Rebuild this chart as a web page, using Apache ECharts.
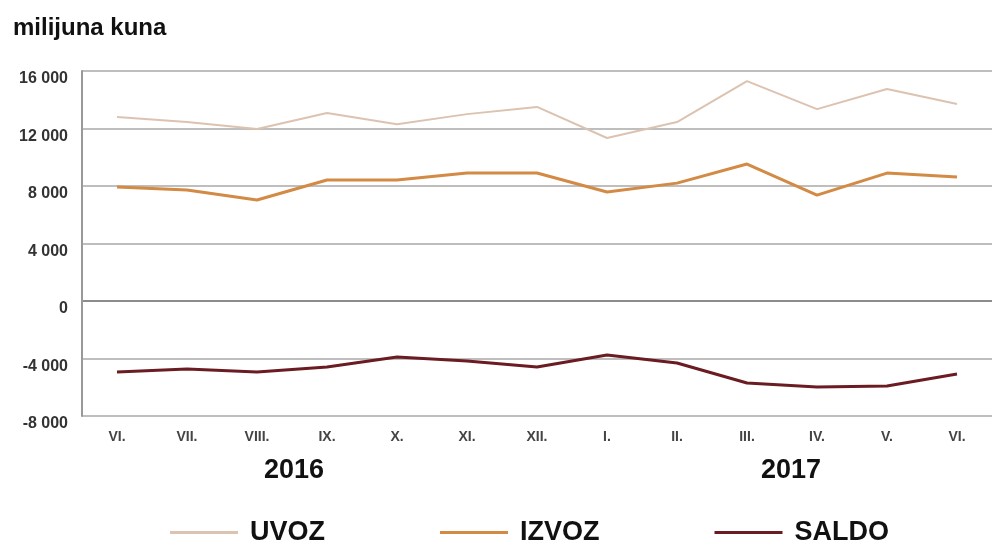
<!DOCTYPE html>
<html>
<head>
<meta charset="utf-8">
<script src="https://cdn.jsdelivr.net/npm/echarts@6/dist/echarts.min.js"></script>
<style>
  html, body { margin: 0; padding: 0; background: #fff; }
  #chart { width: 992px; height: 544px; }
</style>
</head>
<body>
<div id="chart"></div>
<script>
const months = ['VI.', 'VII.', 'VIII.', 'IX.', 'X.', 'XI.', 'XII.', 'I.', 'II.', 'III.', 'IV.', 'V.', 'VI.'];
const uvoz = [12800, 12450, 11970, 13080, 12300, 13000, 13500, 11340, 12450, 15300, 13350, 14750, 13700];
const izvoz = [7930, 7720, 7030, 8420, 8420, 8900, 8900, 7580, 8200, 9530, 7370, 8900, 8630];
const saldo = [-4940, -4730, -4940, -4590, -3900, -4170, -4590, -3760, -4310, -5700, -5980, -5910, -5080];
const years = ['2016', '2017'];

const font = "'Liberation Sans', Arial, sans-serif";
const chart = echarts.init(document.getElementById('chart'));

const option = {
    animation: false,
    title: {
        text: 'milijuna kuna',
        left: 8,
        top: 11,
        textStyle: { fontFamily: font, fontSize: 24, fontWeight: 'bold', color: '#111' }
    },
    grid: { left: 82, right: 0, top: 71, bottom: 128 },
    legend: {
        left: 165,
        top: 514,
        itemWidth: 68,
        itemHeight: 3,
        itemGap: 115,
        icon: 'rect',
        textStyle: { fontFamily: font, fontSize: 27, fontWeight: 'bold', color: '#111', padding: [0, 0, 0, 7] },
        data: ['UVOZ', 'IZVOZ', 'SALDO']
    },
    xAxis: {
        type: 'category',
        data: months,
        boundaryGap: true,
        axisLine: { show: false },
        axisTick: { show: false },
        axisLabel: { margin: 14, fontFamily: font, fontSize: 14, fontWeight: 'bold', color: '#444' }
    },
    yAxis: {
        type: 'value',
        min: -8000,
        max: 16000,
        interval: 4000,
        axisLine: { show: true, lineStyle: { color: '#999', width: 2 } },
        axisTick: { show: false },
        splitLine: { lineStyle: { color: ['#a8a8a8', '#a8a8a8', '#666', '#a8a8a8', '#a8a8a8', '#a8a8a8', '#a8a8a8'], width: 1.5 } },
        axisLabel: {
            margin: 14,
            verticalAlign: 'top',
            fontFamily: font,
            fontSize: 16,
            fontWeight: 'bold',
            color: '#333',
            formatter: v => String(v).replace(/\B(?=(\d{3})+(?!\d))/g, ' ')
        }
    },
    series: [
        { name: 'UVOZ', type: 'line', data: uvoz, symbol: 'none', color: '#dcc3b1', lineStyle: { width: 2 } },
        { name: 'IZVOZ', type: 'line', data: izvoz, symbol: 'none', color: '#d38a45', lineStyle: { width: 3 } },
        { name: 'SALDO', type: 'line', data: saldo, symbol: 'none', color: '#6a1c22', lineStyle: { width: 3 } }
    ],
    graphic: [
        { type: 'text', x: 294, y: 471, style: { text: years[0], font: "bold 27px " + font, fill: '#111', align: 'center', verticalAlign: 'middle' } },
        { type: 'text', x: 791, y: 471, style: { text: years[1], font: "bold 27px " + font, fill: '#111', align: 'center', verticalAlign: 'middle' } }
    ]
};
option && chart.setOption(option);
</script>
</body>
</html>
